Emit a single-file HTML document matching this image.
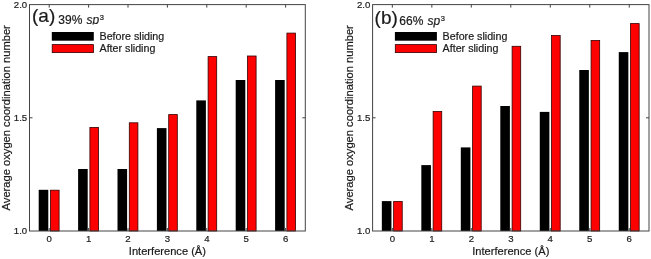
<!DOCTYPE html>
<html><head><meta charset="utf-8"><title>Average oxygen coordination number</title>
<style>html,body{margin:0;padding:0;background:#fff}svg{display:block;will-change:transform}text{font-family:"Liberation Sans",sans-serif;fill:#1a1a1a;stroke:#1a1a1a;stroke-width:0.2px}</style>
</head><body>
<svg width="651" height="259" viewBox="0 0 651 259">
<rect width="651" height="259" fill="#fff"/>
<rect x="38.70" y="189.80" width="9.6" height="41.20" fill="#000"/>
<rect x="50.50" y="190.20" width="8.6" height="40.80" fill="#ff0000" stroke="#300" stroke-width="0.8"/>
<rect x="78.10" y="169.00" width="9.6" height="62.00" fill="#000"/>
<rect x="89.90" y="127.40" width="8.6" height="103.60" fill="#ff0000" stroke="#300" stroke-width="0.8"/>
<rect x="117.50" y="169.00" width="9.6" height="62.00" fill="#000"/>
<rect x="129.30" y="122.80" width="8.6" height="108.20" fill="#ff0000" stroke="#300" stroke-width="0.8"/>
<rect x="156.90" y="128.10" width="9.6" height="102.90" fill="#000"/>
<rect x="168.70" y="114.60" width="8.6" height="116.40" fill="#ff0000" stroke="#300" stroke-width="0.8"/>
<rect x="196.30" y="100.40" width="9.6" height="130.60" fill="#000"/>
<rect x="208.10" y="56.60" width="8.6" height="174.40" fill="#ff0000" stroke="#300" stroke-width="0.8"/>
<rect x="235.70" y="80.00" width="9.6" height="151.00" fill="#000"/>
<rect x="247.50" y="56.00" width="8.6" height="175.00" fill="#ff0000" stroke="#300" stroke-width="0.8"/>
<rect x="275.10" y="80.00" width="9.6" height="151.00" fill="#000"/>
<rect x="286.90" y="33.10" width="8.6" height="197.90" fill="#ff0000" stroke="#300" stroke-width="0.8"/>
<path d="M49.20 231.0v-3M49.20 4.6v3" stroke="#444" stroke-width="1" fill="none"/>
<text x="49.20" y="242.4" font-size="9.6" text-anchor="middle">0</text>
<path d="M88.60 231.0v-3M88.60 4.6v3" stroke="#444" stroke-width="1" fill="none"/>
<text x="88.60" y="242.4" font-size="9.6" text-anchor="middle">1</text>
<path d="M128.00 231.0v-3M128.00 4.6v3" stroke="#444" stroke-width="1" fill="none"/>
<text x="128.00" y="242.4" font-size="9.6" text-anchor="middle">2</text>
<path d="M167.40 231.0v-3M167.40 4.6v3" stroke="#444" stroke-width="1" fill="none"/>
<text x="167.40" y="242.4" font-size="9.6" text-anchor="middle">3</text>
<path d="M206.80 231.0v-3M206.80 4.6v3" stroke="#444" stroke-width="1" fill="none"/>
<text x="206.80" y="242.4" font-size="9.6" text-anchor="middle">4</text>
<path d="M246.20 231.0v-3M246.20 4.6v3" stroke="#444" stroke-width="1" fill="none"/>
<text x="246.20" y="242.4" font-size="9.6" text-anchor="middle">5</text>
<path d="M285.60 231.0v-3M285.60 4.6v3" stroke="#444" stroke-width="1" fill="none"/>
<text x="285.60" y="242.4" font-size="9.6" text-anchor="middle">6</text>
<path d="M29.5 117.80h3M305.3 117.80h-3" stroke="#444" stroke-width="1" fill="none"/>
<rect x="29.5" y="4.6" width="275.80" height="226.40" fill="none" stroke="#444" stroke-width="1"/>
<text x="27.20" y="8.00" font-size="9.6" text-anchor="end">2.0</text>
<text x="27.20" y="121.20" font-size="9.6" text-anchor="end">1.5</text>
<text x="27.20" y="234.40" font-size="9.6" text-anchor="end">1.0</text>
<text x="167.40" y="254.8" font-size="11.1" text-anchor="middle">Interference (Å)</text>
<text transform="translate(9.6,117.80) rotate(-90)" font-size="11.17" text-anchor="middle">Average oxygen coordination number</text>
<text x="32.0" y="22.1" font-size="19">(a)</text>
<clipPath id="ca"><rect x="29.5" y="0" width="200" height="24.5"/></clipPath>
<text x="58.3" y="24.4" font-size="12" clip-path="url(#ca)">39% <tspan font-style="italic" dx="0.9">sp</tspan><tspan font-size="7.5" dx="0.5" dy="-4.4">3</tspan></text>
<rect x="51.80" y="32" width="42" height="8.7" fill="#000"/>
<rect x="52.20" y="44.6" width="41.2" height="8" fill="#ff0000" stroke="#300" stroke-width="0.8"/>
<text x="99.50" y="39.8" font-size="10.7">Before sliding</text>
<text x="99.50" y="52.1" font-size="10.7">After sliding</text>
<rect x="381.84" y="201.10" width="9.6" height="29.90" fill="#000"/>
<rect x="393.64" y="201.50" width="8.6" height="29.50" fill="#ff0000" stroke="#300" stroke-width="0.8"/>
<rect x="421.33" y="165.10" width="9.6" height="65.90" fill="#000"/>
<rect x="433.13" y="111.50" width="8.6" height="119.50" fill="#ff0000" stroke="#300" stroke-width="0.8"/>
<rect x="460.81" y="147.40" width="9.6" height="83.60" fill="#000"/>
<rect x="472.61" y="86.10" width="8.6" height="144.90" fill="#ff0000" stroke="#300" stroke-width="0.8"/>
<rect x="500.30" y="106.00" width="9.6" height="125.00" fill="#000"/>
<rect x="512.10" y="46.30" width="8.6" height="184.70" fill="#ff0000" stroke="#300" stroke-width="0.8"/>
<rect x="539.79" y="111.90" width="9.6" height="119.10" fill="#000"/>
<rect x="551.59" y="35.50" width="8.6" height="195.50" fill="#ff0000" stroke="#300" stroke-width="0.8"/>
<rect x="579.27" y="70.00" width="9.6" height="161.00" fill="#000"/>
<rect x="591.07" y="40.50" width="8.6" height="190.50" fill="#ff0000" stroke="#300" stroke-width="0.8"/>
<rect x="618.76" y="52.10" width="9.6" height="178.90" fill="#000"/>
<rect x="630.56" y="23.60" width="8.6" height="207.40" fill="#ff0000" stroke="#300" stroke-width="0.8"/>
<path d="M392.34 231.0v-3M392.34 4.6v3" stroke="#444" stroke-width="1" fill="none"/>
<text x="392.34" y="242.4" font-size="9.6" text-anchor="middle">0</text>
<path d="M431.83 231.0v-3M431.83 4.6v3" stroke="#444" stroke-width="1" fill="none"/>
<text x="431.83" y="242.4" font-size="9.6" text-anchor="middle">1</text>
<path d="M471.31 231.0v-3M471.31 4.6v3" stroke="#444" stroke-width="1" fill="none"/>
<text x="471.31" y="242.4" font-size="9.6" text-anchor="middle">2</text>
<path d="M510.80 231.0v-3M510.80 4.6v3" stroke="#444" stroke-width="1" fill="none"/>
<text x="510.80" y="242.4" font-size="9.6" text-anchor="middle">3</text>
<path d="M550.29 231.0v-3M550.29 4.6v3" stroke="#444" stroke-width="1" fill="none"/>
<text x="550.29" y="242.4" font-size="9.6" text-anchor="middle">4</text>
<path d="M589.77 231.0v-3M589.77 4.6v3" stroke="#444" stroke-width="1" fill="none"/>
<text x="589.77" y="242.4" font-size="9.6" text-anchor="middle">5</text>
<path d="M629.26 231.0v-3M629.26 4.6v3" stroke="#444" stroke-width="1" fill="none"/>
<text x="629.26" y="242.4" font-size="9.6" text-anchor="middle">6</text>
<path d="M372.6 117.80h3M649.0 117.80h-3" stroke="#444" stroke-width="1" fill="none"/>
<rect x="372.6" y="4.6" width="276.40" height="226.40" fill="none" stroke="#444" stroke-width="1"/>
<text x="370.30" y="8.00" font-size="9.6" text-anchor="end">2.0</text>
<text x="370.30" y="121.20" font-size="9.6" text-anchor="end">1.5</text>
<text x="370.30" y="234.40" font-size="9.6" text-anchor="end">1.0</text>
<text x="510.80" y="254.8" font-size="11.1" text-anchor="middle">Interference (Å)</text>
<text transform="translate(352.9,117.80) rotate(-90)" font-size="11.17" text-anchor="middle">Average oxygen coordination number</text>
<text x="374.6" y="23.6" font-size="19">(b)</text>
<clipPath id="cb"><rect x="372.6" y="0" width="200" height="27.5"/></clipPath>
<text x="399.3" y="25.0" font-size="12" clip-path="url(#cb)">66% <tspan font-style="italic" dx="0.9">sp</tspan><tspan font-size="7.5" dx="0.5" dy="-4.4">3</tspan></text>
<rect x="394.90" y="32" width="42" height="8.7" fill="#000"/>
<rect x="395.30" y="44.6" width="41.2" height="8" fill="#ff0000" stroke="#300" stroke-width="0.8"/>
<text x="442.60" y="39.8" font-size="10.7">Before sliding</text>
<text x="442.60" y="52.1" font-size="10.7">After sliding</text>
</svg>
</body></html>
